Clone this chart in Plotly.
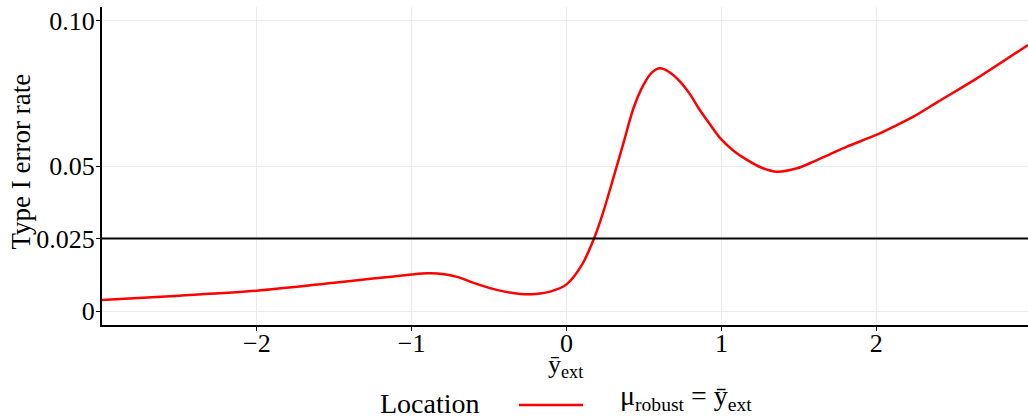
import plotly.graph_objects as go

x_vals = [-3.0, -2.5, -2.0, -1.5, -1.25, -1.0, -0.9, -0.8, -0.7, -0.6, -0.5, -0.4,
          -0.3, -0.2, -0.1, 0.0, 0.1, 0.178, 0.238, 0.302, 0.367, 0.432, 0.496,
          0.55, 0.604, 0.66, 0.733, 0.80, 0.852, 0.92, 0.992, 1.08, 1.165, 1.26,
          1.358, 1.488, 1.595, 1.703, 1.811, 2.0, 2.133, 2.24, 2.40, 2.65, 2.98]
type1_rate = [0.0038, 0.0053, 0.0070, 0.0098, 0.0112, 0.0126, 0.0130, 0.0128, 0.0117,
              0.0097, 0.0080, 0.0067, 0.0059, 0.0059, 0.0068, 0.0092, 0.0160, 0.0251,
              0.0343, 0.0458, 0.0578, 0.0699, 0.0779, 0.0822, 0.0837, 0.0825, 0.0791,
              0.0745, 0.0700, 0.0648, 0.0596, 0.0552, 0.0521, 0.0494, 0.0480, 0.0492,
              0.0515, 0.0541, 0.0567, 0.0607, 0.0641, 0.0670, 0.0722, 0.0802, 0.0917]
alpha_level = 0.025
y_tick_vals = [0, 0.025, 0.05, 0.10]
y_tick_text = ["0", "0.025", "0.05", "0.10"]
x_tick_vals = [-2, -1, 0, 1, 2]
x_title = "ȳ<sub>ext</sub>"
y_title = "Type I error rate"
legend_title = "Location"
series_name = "μ<sub>robust</sub> = ȳ<sub>ext</sub>"
line_color = "#ff0000"

FONT = "Liberation Serif"

fig = go.Figure()
fig.add_trace(go.Scatter(
    x=x_vals, y=type1_rate, mode="lines",
    line=dict(color=line_color, width=2.5, shape="spline", smoothing=0.8),
    name=series_name, showlegend=False,
))
fig.add_hline(y=alpha_level, line=dict(color="black", width=2))

# axis titles
fig.add_annotation(text=x_title, xref="paper", yref="paper", x=0.5, y=-0.13,
                   xanchor="center", yanchor="middle", showarrow=False,
                   font=dict(family=FONT, size=26, color="black"))
fig.add_annotation(text=y_title, xref="paper", yref="paper", x=-0.0875, y=0.514,
                   xanchor="center", yanchor="middle", showarrow=False, textangle=-90,
                   font=dict(family=FONT, size=27, color="black"))

# legend drawn manually (title, key line, label)
fig.add_annotation(text=legend_title, xref="paper", yref="paper", x=0.2985, y=-0.248,
                   xanchor="left", yanchor="middle", showarrow=False,
                   font=dict(family=FONT, size=28, color="black"))
fig.add_shape(type="line", xref="paper", yref="paper", x0=0.4503, x1=0.5194,
              y0=-0.2516, y1=-0.2516, line=dict(color=line_color, width=2.5))
fig.add_annotation(text=series_name, xref="paper", yref="paper", x=0.5572, y=-0.228,
                   xanchor="left", yanchor="middle", showarrow=False,
                   font=dict(family=FONT, size=28, color="black"))

fig.update_layout(
    width=1028, height=418,
    margin=dict(l=102, r=0, t=7, b=93, autoexpand=False),
    paper_bgcolor="white", plot_bgcolor="white",
    font=dict(family=FONT, size=26, color="black"),
    showlegend=False,
    xaxis=dict(
        range=[-3.0, 2.98], tickvals=x_tick_vals,
        showline=True, linecolor="black", linewidth=2, mirror=False,
        ticks="outside", ticklen=4, tickcolor="black", tickwidth=1,
        showgrid=True, gridcolor="#ebebeb", gridwidth=1, zeroline=False,
        tickfont=dict(family=FONT, size=26), ticklabelstandoff=-10,
    ),
    yaxis=dict(
        range=[-0.0048, 0.1048], tickvals=y_tick_vals, ticktext=y_tick_text,
        showline=True, linecolor="black", linewidth=2, mirror=False,
        ticks="outside", ticklen=4, tickcolor="black", tickwidth=1,
        showgrid=True, gridcolor="#ebebeb", gridwidth=1, zeroline=False,
        tickfont=dict(family=FONT, size=26), ticklabelstandoff=-4,
    ),
)

fig.write_html("out.html")
